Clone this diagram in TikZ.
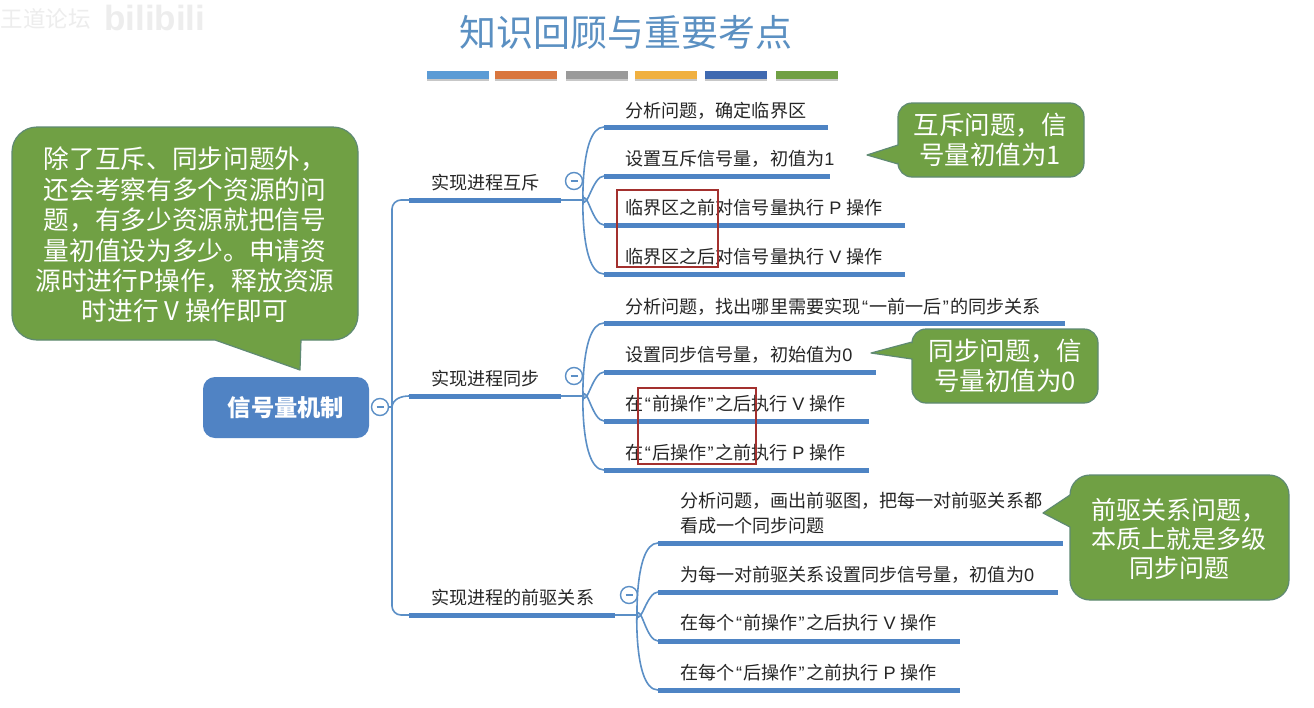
\documentclass[tikz,border=0pt]{standalone}
\usepackage{fontspec}
\setmainfont{Noto Sans CJK SC}
\newfontfamily\latf{Liberation Sans}
\definecolor{rootblue}{HTML}{5083C4}
\definecolor{linkblue}{HTML}{5B8FC6}
\definecolor{leafblue}{HTML}{4E84C4}
\definecolor{calgreen}{HTML}{70A044}
\definecolor{calline}{HTML}{5F8A72}
\definecolor{boxred}{HTML}{A3302E}
\definecolor{titleblue}{HTML}{5B90C2}
\definecolor{txt}{HTML}{262626}
\newcommand{\qo}{\kern1.5pt{\latf“}\kern1.2pt}
\newcommand{\qc}{\kern1.2pt{\latf”}\kern1.5pt}
\newcommand{\pv}[1]{\kern5pt{\latf #1}\kern5pt}
\tikzset{
 leaftext/.style={anchor=west,inner sep=0pt,text=txt,align=left,font=\fontsize{18.1}{25}\selectfont},
 thickline/.style={draw=leafblue,line width=5pt},
 thinline/.style={draw=linkblue,line width=1.6pt},
 foldmark/.style={circle,draw=linkblue,fill=white,line width=1.4pt,minimum size=17pt,inner sep=0pt},
 calloutshape/.style={fill=calgreen,draw=calline,line width=1.2pt,line join=round},
 callouttext/.style={text=white,align=center,inner sep=0pt,font=\fontsize{25.5}{30}\selectfont},
 redbox/.style={draw=boxred,line width=1.5pt},
 colorbar/.style={minimum width=62pt,minimum height=8pt,inner sep=0pt,anchor=center},
 barshadow/.style={fill=black!22},
}
\newcommand{\fold}[2]{\node[foldmark] (#1) at (#2) {};\draw[draw=linkblue,line width=1.4pt] ($(#1.center)+(-3.5,0)$) -- ($(#1.center)+(3.5,0)$);}
\usetikzlibrary{calc}
\begin{document}
\begin{tikzpicture}[x=1pt,y=-1pt]
\useasboundingbox (0,0) rectangle (1314,707);
\fill[white] (0,0) rectangle (1314,707);
% watermark
\node[anchor=east,inner sep=0pt,text=black!7,font=\fontsize{22.5}{26}\selectfont] (wm1) at (91,19) {王道论坛};
\node[anchor=west,inner sep=0pt,text=black!7,font=\latf\bfseries\fontsize{35}{38}\selectfont] (wm2) at (104,18) {bilibili};
% title
\node[inner sep=0pt,text=titleblue,font=\fontsize{37}{42}\selectfont] (title) at (626,32) {知识回顾与重要考点};
\foreach \n/\x/\c in {a/458/5B9BD5,b/526/D9763E,c/596.5/9A9A9A,d/666/F0B040,e/735.5/3F69B0,f/806.5/70A044}{
  \fill[barshadow] (\x-31,73) rectangle (\x+31,81);
  \definecolor{barc}{HTML}{\c}
  \node[colorbar,fill=barc] (bar\n) at (\x,75) {};
}
% root
\node[fill=rootblue,rounded corners=12pt,minimum width=166pt,minimum height=61pt,inner sep=0pt,text=white,font=\bfseries\fontsize{23.3}{26}\selectfont,text depth=3pt] (root) at (286,407.5) {信号量机制};
\fold{rootc}{380,407}
% coordinates of branches
\coordinate (b1s) at (409,200); \coordinate (b1e) at (561,200); \coordinate (f1) at (583,200);
\coordinate (b2s) at (409,396); \coordinate (b2e) at (561,396); \coordinate (f2) at (583,396);
\coordinate (b3s) at (409,615); \coordinate (b3e) at (615,615); \coordinate (f3) at (637,615);
\coordinate (j) at (392,407);
% trunk
\draw[thinline] (rootc.east) -- (j);
\draw[thinline,rounded corners=9pt] (j) -- (j |- b1s) -- (b1s);
\draw[thinline,rounded corners=9pt] (j) -- (j |- b3s) -- (b3s);
\draw[thinline] (j) to[out=85,in=180] (b2s);
\foreach \k in {1,2,3}{
  \draw[thickline] (b\k s) -- (b\k e);
  \draw[thinline] (b\k e) -- (f\k);
}
\node[leaftext] (t1) at (431,183) {实现进程互斥};
\node[leaftext] (t2) at (431,379) {实现进程同步};
\node[leaftext] (t3) at (431,598) {实现进程的前驱关系};
\fold{c1}{574,181}
\fold{c2}{574,376}
\fold{c3}{629,595}
% group 1
\coordinate (a1s) at (604,127); \coordinate (a1e) at (828,127);
\coordinate (a2s) at (604,176); \coordinate (a2e) at (830,176);
\coordinate (a3s) at (604,225); \coordinate (a3e) at (905,225);
\coordinate (a4s) at (604,274); \coordinate (a4e) at (905,274);
% group 2
\coordinate (d1s) at (604,323); \coordinate (d1e) at (1065,323);
\coordinate (d2s) at (604,372); \coordinate (d2e) at (876,372);
\coordinate (d3s) at (604,421); \coordinate (d3e) at (869,421);
\coordinate (d4s) at (604,470); \coordinate (d4e) at (869,470);
% group 3
\coordinate (g1s) at (658,543); \coordinate (g1e) at (1063,543);
\coordinate (g2s) at (658,592); \coordinate (g2e) at (1058,592);
\coordinate (g3s) at (658,641); \coordinate (g3e) at (960,641);
\coordinate (g4s) at (658,690); \coordinate (g4e) at (960,690);
\foreach \p/\f in {a/1,d/2,g/3}{
  \draw[thinline] (f\f) to[out=-88,in=180,looseness=0.9] (\p1s);
  \draw[thinline] (f\f) to[out=-70,in=180,looseness=0.9] (\p2s);
  \draw[thinline] (f\f) to[out=70,in=180,looseness=0.9] (\p3s);
  \draw[thinline] (f\f) to[out=88,in=180,looseness=0.9] (\p4s);
  \foreach \i in {1,2,3,4}{\draw[thickline] (\p\i s) -- (\p\i e);}
}
\node[leaftext] (l11) at (625,111) {分析问题，确定临界区};
\node[leaftext] (l12) at (625,159) {设置互斥信号量，初值为{\latf 1}};
\node[leaftext] (l13) at (625,208) {临界区之前对信号量执行\pv{P}操作};
\node[leaftext] (l14) at (625,257) {临界区之后对信号量执行\pv{V}操作};
\node[leaftext] (l21) at (625,307) {分析问题，找出哪里需要实现\qo 一前一后\qc 的同步关系};
\node[leaftext] (l22) at (625,355) {设置同步信号量，初始值为{\latf 0}};
\node[leaftext] (l23) at (625,404) {在\qo 前操作\qc 之后执行\pv{V}操作};
\node[leaftext] (l24) at (625,453) {在\qo 后操作\qc 之前执行\pv{P}操作};
\node[leaftext] (l31) at (680,513) {分析问题，画出前驱图，把每一对前驱关系都\\看成一个同步问题};
\node[leaftext] (l32) at (680,575) {为每一对前驱关系设置同步信号量，初值为{\latf 0}};
\node[leaftext] (l33) at (680,623) {在每个\qo 前操作\qc 之后执行\pv{V}操作};
\node[leaftext] (l34) at (680,673) {在每个\qo 后操作\qc 之前执行\pv{P}操作};
% red boxes
\node[redbox,minimum width=101pt,minimum height=77pt,inner sep=0pt] (r1) at (667.5,228.5) {};
\node[redbox,minimum width=118pt,minimum height=76pt,inner sep=0pt] (r2) at (697,426) {};
% callouts
\draw[calloutshape] (215,340) -- (300,370) -- (301,340) [rounded corners=25pt] -- (358,340) -- (358,127) -- (12,127) -- (12,340) [sharp corners] -- cycle;
\node[callouttext,font=\fontsize{25.7}{30.4}\selectfont] (cal0) at (185,235) {除了互斥、同步问题外，\\还会考察有多个资源的问\\题，有多少资源就把信号\\量初值设为多少。申请资\\源时进行P操作，释放资源\\时进行 V 操作即可};
\draw[calloutshape] (898,164) -- (867,155) -- (898,145) [rounded corners=14pt] -- (898,103) -- (1084,103) -- (1084,177) -- (898,177) [sharp corners] -- cycle;
\node[callouttext] (cal1) at (990,140) {互斥问题，信\\号量初值为1};
\draw[calloutshape] (912,359) -- (871,353) -- (912,342) [rounded corners=14pt] -- (912,329) -- (1098,329) -- (1098,403) -- (912,403) [sharp corners] -- cycle;
\node[callouttext] (cal2) at (1005,366) {同步问题，信\\号量初值为0};
\draw[calloutshape] (1070,527) -- (1043,513) -- (1070,495) [rounded corners=20pt] -- (1070,475) -- (1289,475) -- (1289,600) -- (1070,600) [sharp corners] -- cycle;
\node[callouttext,font=\fontsize{25}{29}\selectfont] (cal3) at (1179,539) {前驱关系问题，\\本质上就是多级\\同步问题};
\end{tikzpicture}
\end{document}
